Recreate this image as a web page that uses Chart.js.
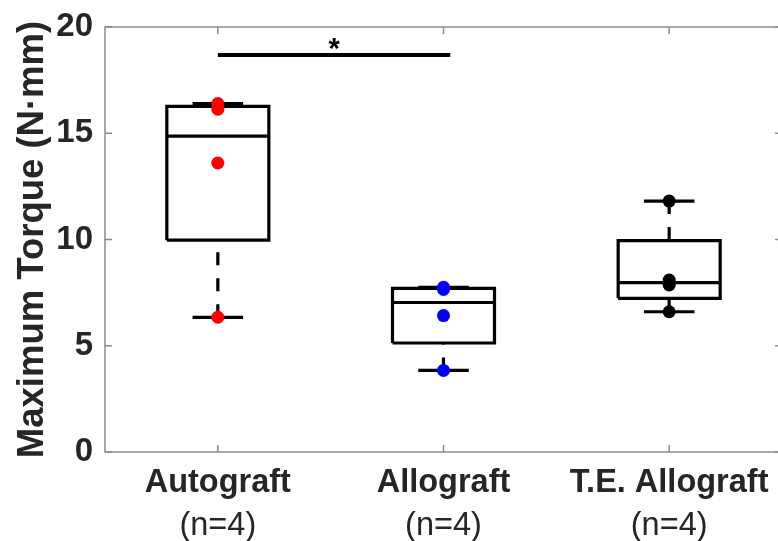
<!DOCTYPE html>
<html>
<head>
<meta charset="utf-8">
<script src="https://cdn.jsdelivr.net/npm/chart.js@4/dist/chart.umd.min.js"></script>
<style>
  html, body { margin: 0; padding: 0; background: #fff; overflow: hidden; }
  #wrap { width: 782px; height: 541px; }
</style>
</head>
<body>
<div id="wrap"><canvas id="torqueChart" width="782" height="541"></canvas></div>
<script>
// groups and their sample sizes
const categories = ['Autograft', 'Allograft', 'T.E. Allograft'];
const sampleLabels = ['(n=4)', '(n=4)', '(n=4)'];

// maximum torque per specimen (N·mm)
const autograft = [6.34, 13.6, 16.13, 16.4];
const allograft = [3.84, 6.42, 7.65, 7.75];
const teAllograft = [6.6, 7.86, 8.09, 11.81];
const groupValues = [autograft, allograft, teAllograft];
const pointColors = ['#ff0000', '#0000ff', '#000000'];

// y axis ticks
const yTicks = [0, 5, 10, 15, 20];

// significance bar between Autograft and Allograft
const sigFrom = 1;
const sigTo = 2.03;
const sigLevel = 18.68;
const sigLabel = '*';

const boxHalf = 0.226;
const capHalf = 0.112;
const axisGray = '#8c8c8c';
const textColor = '#262626';

/* matlab-style percentile (n*p + 0.5 positions) */
function pct(sorted, p) {
    const n = sorted.length;
    let pos = n * p + 0.5;
    if (pos <= 1) return sorted[0];
    if (pos >= n) return sorted[n - 1];
    const lo = Math.floor(pos);
    const f = pos - lo;
    return sorted[lo - 1] + f * (sorted[lo] - sorted[lo - 1]);
}

function boxStats(values) {
    const s = values.slice().sort((a, b) => a - b);
    const q1 = pct(s, 0.25), med = pct(s, 0.5), q3 = pct(s, 0.75);
    const iqr = q3 - q1;
    const inside = s.filter(v => v >= q1 - 1.5 * iqr && v <= q3 + 1.5 * iqr);
    return { q1, med, q3, lo: inside[0], hi: inside[inside.length - 1] };
}

const lineStyle = {
    type: 'line',
    showLine: true,
    borderColor: '#000',
    borderWidth: 3.2,
    pointRadius: 0,
    tension: 0,
    fill: false,
    order: 1
};

const datasets = [];
groupValues.forEach((vals, i) => {
    const x = i + 1;
    const st = boxStats(vals);
    datasets.push({ ...lineStyle, borderJoinStyle: 'miter', data: [
        {x: x - boxHalf, y: st.q1}, {x: x + boxHalf, y: st.q1},
        {x: x + boxHalf, y: st.q3}, {x: x - boxHalf, y: st.q3},
        {x: x - boxHalf, y: st.q1}
    ]});
    datasets.push({ ...lineStyle, data: [{x: x - boxHalf, y: st.med}, {x: x + boxHalf, y: st.med}] });
    datasets.push({ ...lineStyle, borderDash: [13, 13], data: [{x: x, y: st.hi}, {x: x, y: st.q3}] });
    datasets.push({ ...lineStyle, borderDash: [13, 13], data: [{x: x, y: st.lo}, {x: x, y: st.q1}] });
    datasets.push({ ...lineStyle, data: [{x: x - capHalf, y: st.hi}, {x: x + capHalf, y: st.hi}] });
    datasets.push({ ...lineStyle, data: [{x: x - capHalf, y: st.lo}, {x: x + capHalf, y: st.lo}] });
    datasets.push({
        type: 'scatter',
        data: vals.map(v => ({x: x, y: v})),
        pointRadius: 6.5,
        pointHoverRadius: 6.5,
        pointBackgroundColor: pointColors[i],
        pointBorderWidth: 0,
        order: 0
    });
});
datasets.push({ ...lineStyle, borderWidth: 4, data: [{x: sigFrom, y: sigLevel}, {x: sigTo, y: sigLevel}] });

/* frame with inward ticks on all four sides + significance star */
const framePlugin = {
    id: 'frame',
    afterDraw(chart) {
        const {ctx, chartArea: a, scales} = chart;
        const tick = 7;
        ctx.save();
        ctx.strokeStyle = axisGray;
        ctx.lineWidth = 1.5;
        ctx.strokeRect(a.left, a.top, a.right - a.left, a.bottom - a.top);
        ctx.beginPath();
        scales.x.ticks.forEach(t => {
            const px = scales.x.getPixelForValue(t.value);
            ctx.moveTo(px, a.bottom); ctx.lineTo(px, a.bottom - tick);
            ctx.moveTo(px, a.top); ctx.lineTo(px, a.top + tick);
        });
        scales.y.ticks.forEach(t => {
            const py = scales.y.getPixelForValue(t.value);
            ctx.moveTo(a.left, py); ctx.lineTo(a.left + tick, py);
            ctx.moveTo(a.right, py); ctx.lineTo(a.right - tick, py);
        });
        ctx.stroke();

        ctx.fillStyle = '#000';
        ctx.font = "bold 29px 'Liberation Sans', Arial, sans-serif";
        ctx.textAlign = 'center';
        ctx.textBaseline = 'alphabetic';
        const sx = scales.x.getPixelForValue((sigFrom + sigTo) / 2);
        const sy = scales.y.getPixelForValue(sigLevel);
        ctx.fillText(sigLabel, sx, sy + 3);
        ctx.restore();
    }
};

Chart.defaults.font.family = "'Liberation Sans', Arial, sans-serif";

const catTicks = axis => { axis.ticks = categories.map((c, i) => ({ value: i + 1 })); };
const fixBand = h => axis => {
    axis.height = h;
    axis.paddingLeft = 0;
    axis.paddingRight = 0;
};

new Chart(document.getElementById('torqueChart').getContext('2d'), {
    type: 'scatter',
    data: { datasets: datasets },
    options: {
        responsive: false,
        animation: false,
        events: [],
        layout: {
            autoPadding: false,
            padding: { top: 27, left: 7, right: 0, bottom: 0 }
        },
        plugins: {
            legend: { display: false },
            tooltip: { enabled: false }
        },
        scales: {
            x: {
                type: 'linear',
                position: 'bottom',
                min: 0.5,
                max: 3.5,
                afterBuildTicks: catTicks,
                afterFit: fixBand(49),
                grid: { display: false, drawTicks: false },
                border: { display: false },
                ticks: {
                    padding: 12,
                    color: textColor,
                    font: { size: 32.5, weight: 'bold' },
                    maxRotation: 0,
                    autoSkip: false,
                    callback: v => categories[v - 1]
                }
            },
            x2: {
                type: 'linear',
                position: 'bottom',
                min: 0.5,
                max: 3.5,
                afterBuildTicks: catTicks,
                afterFit: fixBand(40),
                grid: { display: false, drawTicks: false },
                border: { display: false },
                ticks: {
                    padding: 6,
                    color: textColor,
                    font: { size: 32.5, weight: 'normal' },
                    maxRotation: 0,
                    autoSkip: false,
                    callback: v => sampleLabels[v - 1]
                }
            },
            y: {
                min: 0,
                max: 20,
                afterBuildTicks: axis => { axis.ticks = yTicks.map(v => ({ value: v })); },
                afterFit: axis => {
                    axis.width = 98;
                    axis.paddingTop = 0;
                    axis.paddingBottom = 0;
                },
                grid: { display: false, drawTicks: false },
                border: { display: false },
                ticks: {
                    padding: 12,
                    color: textColor,
                    font: { size: 33, weight: 'bold' }
                },
                title: {
                    display: true,
                    text: 'Maximum Torque (N·mm)',
                    color: textColor,
                    font: { size: 36.5, weight: 'bold' },
                    padding: { top: 4, bottom: 4 }
                }
            }
        }
    },
    plugins: [framePlugin]
});
</script>
</body>
</html>
